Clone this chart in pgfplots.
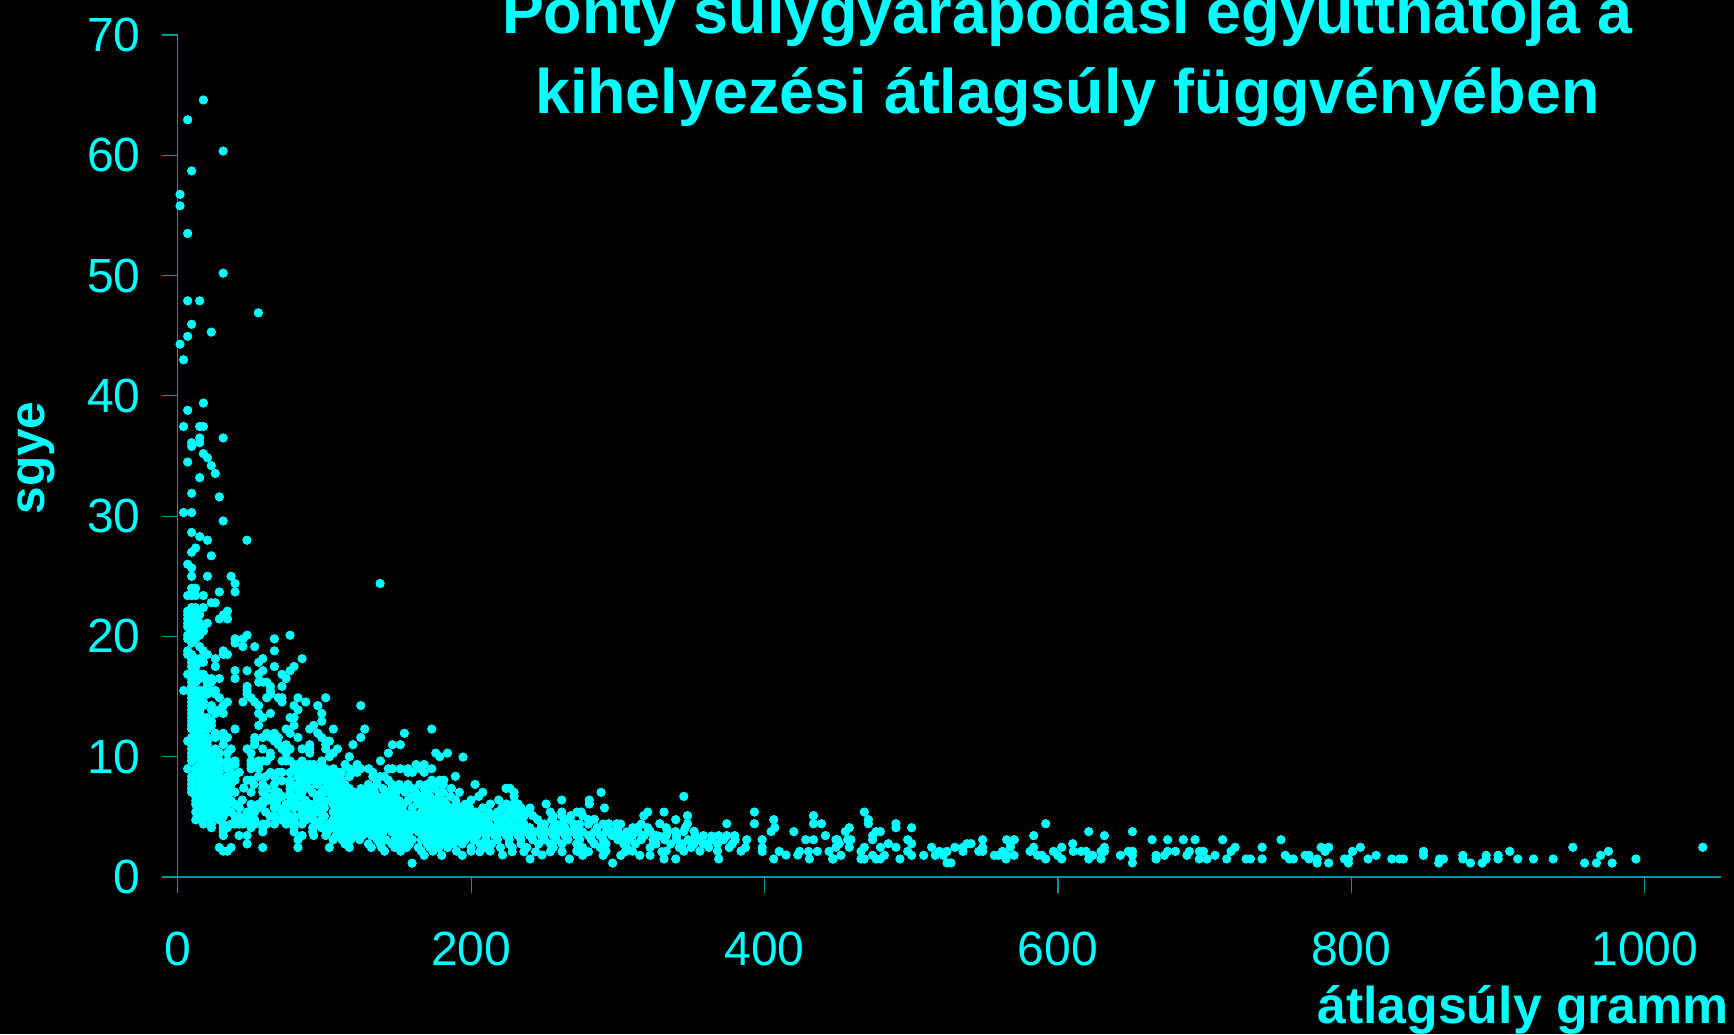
\documentclass[border=0pt]{standalone}
\usepackage{fontspec}
\setmainfont{Liberation Sans}
\usepackage{pgfplots}
\pgfplotsset{compat=1.18}
\definecolor{cy}{HTML}{00FFFF}
\definecolor{axc}{HTML}{009A9A}
\begin{document}
\begin{tikzpicture}[x=1pt,y=1pt]
\fill[black] (0,0) rectangle (867,517);
\useasboundingbox (0,0) rectangle (867,517);
\begin{axis}[
 at={(88.85pt,78.5pt)},anchor=origin,
 scale only axis,width=771.65pt,height=421pt,
 xmin=0,xmax=1052,ymin=0,ymax=70,
 axis lines=left,axis line style={-,axc,line width=0.6pt},
 clip=false,
 xtick={0,200,400,600,800,1000},ytick={0,10,...,70},
 tick style={axc,line width=0.6pt},
 major tick length=8pt,
 tick align=outside,
 /pgf/number format/assume math mode=true,
 /pgf/number format/1000 sep={},
 ticklabel style={cy,font=\fontsize{24}{26}\selectfont},
 xticklabel style={yshift=-16pt},
 yticklabel style={xshift=-7pt},
 title={Ponty súlygyarapodási együtthatója a\\kihelyezési átlagsúly függvényében},
 title style={at={(rel axis cs:0.5,1)},anchor=north,align=center,cy,yshift=21.5pt,xshift=59pt,
   font=\bfseries\fontsize{31.4}{40}\selectfont},
 xlabel={átlagsúly gramm},
 xlabel style={at={(rel axis cs:1,0)},anchor=north east,cy,xshift=7.5pt,yshift=-50.5pt,font=\bfseries\fontsize{25.9}{28}\selectfont},
 ylabel={sgye},
 ylabel style={at={(rel axis cs:0,0.5)},anchor=south,cy,xshift=-1pt,yshift=58pt,font=\bfseries\fontsize{24.8}{27}\selectfont},
]
\addplot[only marks,mark=*,mark size=2.1pt,color=cy,mark options={draw=none,fill=cy}] coordinates {
(17.5,64.6)(6.8,62.95)(31,60.35)(9.5,58.7)(1.6,56.75)(1.6,55.8)(6.8,53.5)(31,50.2)(6.8,47.9)(15,47.9)(55,46.9)(9.5,45.95)
(22.9,45.3)(6.8,44.95)(1.6,44.3)(4,43)(17.5,39.4)(6.8,38.8)(4,37.45)(15,37.45)(17.5,37.45)(15,36.5)(31,36.5)(9.5,36.1)(15,36.1)(9.5,35.8)
(17.5,35.2)(20.3,34.85)(6.8,34.5)(22.9,34.2)(25.6,33.55)(15,33.2)(9.5,31.9)(28.4,31.6)(4,30.3)(9.5,30.3)(31,29.6)(9.5,28.65)(15,28.3)
(20.3,28)(47.2,28)(12.2,27.35)(9.5,27)(22.9,26.7)(6.8,26)(9.5,25.7)(9.5,25)(20.3,25)(36.4,25)(39.1,24.4)(138,24.4)(9.5,24)(12.2,24)
(28.4,23.7)(39.1,23.7)(6.8,23.4)(9.5,23.4)(12.2,23.4)(17.5,23.4)(22.9,22.8)(25.6,22.8)(9.5,22.4)(12.2,22.4)(17.5,22.4)
(6.8,22.1)(9.5,22.1)(12.3,22.1)(33.9,22.1)(6.8,21.8)(9.5,21.8)(15,21.8)(31.1,21.8)
(6.8,21.45)(9.5,21.45)(12.3,21.45)(28.4,21.45)(33.9,21.45)(6.8,21.1)(9.5,21.1)(12.3,21.1)(15,21.1)(20.2,21.1)
(6.8,20.8)(9.5,20.8)(12.3,20.8)(17.5,20.8)(9.5,20.45)(15,20.45)(17.5,20.45)(6.8,20.1)(9.5,20.1)(12.3,20.1)(15,20.1)(47.3,20.1)(76.6,20.1)
(6.8,19.8)(9.5,19.8)(12.3,19.8)(39.1,19.8)(44.5,19.8)(65.9,19.8)(9.5,19.45)(39.1,19.45)(15,19.15)(44.5,19.15)(52.5,19.15)
(6.8,18.8)(17.5,18.8)(31.1,18.8)(65.9,18.8)(6.8,18.5)(9.5,18.5)(20.2,18.5)(33.9,18.5)(31.1,18.5)
(9.5,18.15)(12.3,18.15)(15,18.15)(25.7,18.15)(58,18.15)(84.8,18.15)(9.5,17.85)(15,17.85)(17.5,17.85)(55.2,17.85)
(9.5,17.5)(12.3,17.5)(25.7,17.5)(65.9,17.5)(79.3,17.5)(39.1,17.15)(47.3,17.15)(58,17.15)(76.6,17.15)
(6.8,16.85)(9.5,16.85)(12.3,16.85)(15,16.85)(17.5,16.85)(55.2,16.85)(71.1,16.85)
(9.5,16.5)(12.3,16.5)(15,16.5)(20.2,16.5)(23,16.5)(28.4,16.5)(39.1,16.5)(73.9,16.5)
(9.5,16.2)(12.3,16.2)(20.2,16.2)(23,16.2)(55.2,16.2)(58,16.2)(60.7,16.2)(9.5,15.85)(20.2,15.85)(47.3,15.85)(63.2,15.85)(71.1,15.85)
(4.1,15.5)(9.5,15.5)(12.3,15.5)(15,15.5)(17.5,15.5)(20.2,15.5)(23,15.5)(25.7,15.5)(47.3,15.5)(63.2,15.5)
(9.5,15.2)(12.3,15.2)(15,15.2)(20.2,15.2)(25.7,15.2)(47.3,15.2)(63.2,15.2)
(9.5,14.9)(12.3,14.9)(15,14.9)(28.4,14.9)(50,14.9)(60.7,14.9)(68.6,14.9)(71.1,14.9)(82,14.9)(100.9,14.9)
(9.5,14.55)(12.3,14.55)(15,14.55)(17.5,14.55)(33.9,14.55)(44.5,14.55)(52.5,14.55)(71.1,14.55)(87.3,14.55)
(9.5,14.25)(12.3,14.25)(15,14.25)(17.5,14.25)(23,14.25)(31.1,14.25)(55.2,14.25)(79.3,14.25)(95.5,14.25)(124.8,14.25)
(9.5,13.9)(12.3,13.9)(15,13.9)(23,13.9)(28.4,13.9)(82,13.9)
(9.5,13.6)(12.3,13.6)(15,13.6)(25.7,13.6)(31.1,13.6)(55.2,13.6)(63.2,13.6)(98.2,13.6)
(9.5,13.25)(12.3,13.25)(15,13.25)(17.5,13.25)(20.2,13.25)(58,13.25)(76.6,13.25)(79.3,13.25)
(9.5,12.95)(12.3,12.95)(15,12.95)(17.5,12.95)(20.2,12.95)(23,12.95)(98.2,12.95)
(9.5,12.6)(12.3,12.6)(15,12.6)(17.5,12.6)(20.2,12.6)(23,12.6)(55.2,12.6)(79.3,12.6)(92.7,12.6)
(9.5,12.3)(12.3,12.3)(15,12.3)(17.5,12.3)(20.2,12.3)(39.1,12.3)(73.9,12.3)(90,12.3)(106.1,12.3)(127.5,12.3)(173.2,12.3)
(12.3,11.95)(15,11.95)(25.7,11.95)(31.1,11.95)(60.7,11.95)(65.9,11.95)(76.6,11.95)(95.5,11.95)(154.5,11.95)
(9.5,11.6)(12.3,11.6)(15,11.6)(17.5,11.6)(20.2,11.6)(25.7,11.6)(31.1,11.6)(33.9,11.6)(52.5,11.6)(58,11.6)(63.2,11.6)(68.6,11.6)(82,11.6)(98.2,11.6)(124.8,11.6)
(6.8,11.3)(9.5,11.3)(12.3,11.3)(15,11.3)(17.5,11.3)(20.2,11.3)(52.5,11.3)(65.9,11.3)(100.9,11.3)(103.4,11.3)
(9.5,11)(12.3,11)(15,11)(20.2,11)(31.1,11)(52.5,11)(68.6,11)(73.9,11)(90,11)(100.9,11)(119.5,11)(146.4,11)(151.8,11)
(9.5,10.65)(12.3,10.65)(15,10.65)(17.5,10.65)(20.2,10.65)(25.7,10.65)(36.4,10.65)(47.3,10.65)(58,10.65)(71.1,10.65)(76.6,10.65)(84.8,10.65)(90,10.65)(100.9,10.65)(108.9,10.65)
(9.5,10.3)(12.3,10.3)(15,10.3)(17.5,10.3)(20.2,10.3)(23,10.3)(28.4,10.3)(33.9,10.3)(50,10.3)(63.2,10.3)(73.9,10.3)(90,10.3)(106.1,10.3)(143.6,10.3)(175.9,10.3)(183.9,10.3)
(9.5,10)(12.3,10)(15,10)(23,10)(63.2,10)(103.4,10)(117,10)(178.6,10)(194.5,9.97)
(9.5,9.65)(17.5,9.65)(20.2,9.65)(23,9.65)(25.7,9.65)(28.4,9.65)(33.9,9.65)(39.1,9.65)(50,9.65)(55.2,9.65)(58,9.65)(60.7,9.65)(71.1,9.65)(73.9,9.65)(76.6,9.65)(84.8,9.65)(98.2,9.65)(138.2,9.65)
(15,9.35)(17.5,9.35)(20.2,9.35)(23,9.35)(28.4,9.35)(33.9,9.35)(36.4,9.35)(39.1,9.35)(50,9.35)(55.2,9.35)(79.3,9.35)(82,9.35)(87.3,9.35)(90,9.35)(92.7,9.35)(98.2,9.35)(114.1,9.35)(122.3,9.35)(162.5,9.35)(168,9.35)
(6.8,9)(12.3,9)(15,9)(17.5,9)(20.2,9)(23,9)(28.4,9)(33.9,9)(50,9)(55.2,9)(79.3,9)(84.8,9)(90,9)(95.5,9)(100.9,9)(106.1,9)(117,9)(124.8,9)(130.2,9)(143.6,9)(146.4,9)(151.8,9)(157,9)(165.2,9)(173.2,9)
(12.3,8.7)(15,8.7)(20.2,8.7)(23,8.7)(25.7,8.7)(28.4,8.7)(36.4,8.7)(63.2,8.7)(68.6,8.7)(71.1,8.7)(76.6,8.7)(82,8.7)(87.3,8.7)(92.7,8.7)(98.2,8.7)(103.4,8.7)(109,8.7)(111.6,8.7)(119.5,8.7)(122.3,8.7)(133,8.7)(157,8.7)(160,8.7)(168,8.7)
(9.5,8.35)(15,8.35)(17.5,8.35)(20.2,8.35)(23,8.35)(25.7,8.35)(28.4,8.35)(33.9,8.35)(39.1,8.35)(82,8.35)(84.8,8.35)(90,8.35)(95,8.35)(100,8.35)(106,8.35)(117,8.35)(133,8.35)(138,8.35)(140.9,8.35)(189.3,8.37)
(9.5,8.05)(15,8.05)(17.5,8.05)(20.2,8.05)(23,8.05)(25.7,8.05)(28.4,8.05)(31.1,8.05)(36.4,8.05)(39.1,8.05)(47.3,8.05)(50,8.05)(76.6,8.05)(84.8,8.05)(90,8.05)(92.7,8.05)(98,8.05)(100.9,8.05)(103.4,8.05)(109,8.05)(111.6,8.05)(135.7,8.05)(143.6,8.05)(173.2,8.05)(178.6,8.05)(181.4,8.05)
(9.5,7.7)(15,7.7)(20.2,7.7)(25.7,7.7)(31.1,7.7)(36.4,7.7)(58,7.7)(65.9,7.7)(76.6,7.7)(82,7.7)(87,7.7)(95,7.7)(103,7.7)(108,7.7)(114,7.7)(130,7.7)(136,7.7)(146,7.7)(151,7.7)(157,7.7)(165,7.7)(170,7.7)(176,7.7)(181,7.7)(202.7,7.7)
(9.5,7.35)(15,7.35)(17.5,7.35)(23,7.35)(28.4,7.35)(33.9,7.35)(58,7.35)(60.7,7.35)(76.6,7.35)(82,7.35)(90,7.35)(100,7.35)(105,7.35)(111,7.35)(117,7.35)(125,7.35)(133,7.35)(140,7.35)(146,7.35)(152,7.35)(160,7.35)(168,7.35)(175,7.35)(186.5,7.37)(223.8,7.37)(226.5,7.37)
(9.5,7.05)(15,7.05)(20.2,7.05)(25.7,7.05)(31.1,7.05)(36.4,7.05)(39.1,7.05)(50,7.05)(58,7.05)(65.9,7.05)(68.6,7.05)(76.6,7.05)(84.8,7.05)(98,7.05)(103,7.05)(108,7.05)(114,7.05)(120,7.05)(128,7.05)(134,7.05)(142,7.05)(149,7.05)(155,7.05)(162,7.05)(170,7.05)(178,7.05)(192,7.04)(207.9,7.04)(229.3,7.04)(288.6,7.04)(181,7.04)
(12.3,6.7)(17.5,6.7)(23,6.7)(28.4,6.7)(33.9,6.7)(60.7,6.7)(65.9,6.7)(71.1,6.7)(76.6,6.7)(82,6.7)(98,6.7)(106,6.7)(112,6.7)(118,6.7)(124,6.7)(130,6.7)(136,6.7)(141,6.7)(147,6.7)(160,6.7)(166,6.7)(172,6.7)(178,6.7)(186,6.7)(205.2,6.7)(229.3,6.7)(345,6.7)
(12.3,6.35)(15,6.35)(20.2,6.35)(25.7,6.35)(31.1,6.35)(36.4,6.35)(58,6.35)(60.7,6.35)(65.9,6.35)(95,6.35)(103,6.35)(109,6.35)(115,6.35)(121,6.35)(127,6.35)(133,6.35)(139,6.35)(145,6.35)(151,6.35)(157,6.35)(163,6.35)(169,6.35)(175,6.35)(181,6.35)(189.3,6.4)(200,6.4)(218.8,6.4)(261.8,6.4)(280.6,6.4)
(12.3,6.05)(17.5,6.05)(23,6.05)(28.4,6.05)(33.9,6.05)(50,6.05)(55.2,6.05)(58,6.05)(65.9,6.05)(73.9,6.05)(76.6,6.05)(82,6.05)(90,6.05)(98,6.05)(106,6.05)(112,6.05)(118,6.05)(124,6.05)(130,6.05)(136,6.05)(142,6.05)(148,6.05)(154,6.05)(165,6.05)(171,6.05)(177,6.05)(183,6.05)(190,6.05)(196,6.05)(213.1,6.07)(224,6.07)(229,6.07)(232,6.07)(251.1,6.07)(280.6,6.07)
(15,5.75)(20.2,5.75)(25.7,5.75)(31.1,5.75)(55.2,5.75)(65.9,5.75)(73.9,5.75)(79.3,5.75)(84.8,5.75)(92.7,5.75)(100,5.75)(108,5.75)(114,5.75)(120,5.75)(126,5.75)(132,5.75)(139,5.75)(145,5.75)(151,5.75)(160,5.75)(168,5.75)(174,5.75)(180,5.75)(186,5.75)(192,5.75)(199,5.75)(208,5.75)(221,5.74)(228,5.74)(234,5.74)(240.2,5.74)(290.9,5.74)
(12.3,5.4)(17.5,5.4)(23,5.4)(28.4,5.4)(33.9,5.4)(47.3,5.4)(50,5.4)(52.5,5.4)(71.1,5.4)(73.9,5.4)(84.8,5.4)(90,5.4)(98,5.4)(106,5.4)(112,5.4)(118,5.4)(124,5.4)(130,5.4)(136,5.4)(142,5.4)(148,5.4)(154,5.4)(160,5.4)(166,5.4)(172,5.4)(178,5.4)(184,5.4)(190,5.4)(196,5.4)(203,5.4)(212,5.4)(218,5.4)(226,5.4)(232,5.4)(238,5.4)(261.8,5.4)(272.2,5.4)(275,5.4)(320.4,5.4)(331.5,5.4)(393.1,5.4)
(15,5.05)(20.2,5.05)(25.7,5.05)(31.1,5.05)(41.8,5.05)(47.3,5.05)(50,5.05)(79.3,5.05)(84.8,5.05)(90,5.05)(100,5.05)(108,5.05)(114,5.05)(120,5.05)(126,5.05)(132,5.05)(138,5.05)(144,5.05)(150,5.05)(157,5.05)(163,5.05)(169,5.05)(175,5.05)(181,5.05)(187,5.05)(193,5.05)(200,5.05)(207,5.05)(214,5.05)(223,5.05)(230,5.05)(236,5.05)(256,5.05)(261.8,5.1)(276,5.1)(317.7,5.1)(347.5,5.1)(433.4,5.1)
(12.3,4.75)(17.5,4.75)(23,4.75)(28.4,4.75)(44.5,4.75)(47.3,4.75)(52.5,4.75)(79.3,4.75)(87.3,4.75)(92.7,4.75)(98,4.75)(106,4.75)(112,4.75)(118,4.75)(124,4.75)(130,4.75)(136,4.75)(142,4.75)(148,4.75)(154,4.75)(160,4.75)(166,4.75)(172,4.75)(178,4.75)(184,4.75)(190,4.75)(196,4.75)(202,4.75)(209,4.75)(218,4.75)(225,4.75)(233,4.75)(245.4,4.77)(255,4.77)(264,4.77)(267,4.77)(280,4.77)(339.5,4.77)(406.3,4.77)
(17.5,4.4)(23,4.4)(31,4.4)(36.4,4.4)(39.1,4.4)(41.8,4.4)(44.5,4.4)(50,4.4)(52.5,4.4)(58,4.4)(60.7,4.4)(73.9,4.4)(79.3,4.4)(84.8,4.4)(95,4.4)(103,4.4)(110,4.4)(116,4.4)(122,4.4)(128,4.4)(134,4.4)(140,4.4)(146,4.4)(152,4.4)(158,4.4)(164,4.4)(170,4.4)(176,4.4)(182,4.4)(188,4.4)(194,4.4)(200,4.4)(206,4.4)(212,4.4)(220,4.4)(228,4.4)(236,4.4)(250,4.4)(258,4.4)(270,4.4)(280,4.4)(293.8,4.43)(299.3,4.43)(328.6,4.43)(347.5,4.43)(374.3,4.43)(393.1,4.43)(433.4,4.43)(438.8,4.43)(470.8,4.43)(489.6,4.43)(591.7,4.43)
(23,4.1)(31,4.1)(33.9,4.1)(50,4.1)(58,4.1)(79.3,4.1)(92,4.1)(98,4.1)(106,4.1)(113,4.1)(119,4.1)(125,4.1)(131,4.1)(137,4.1)(143,4.1)(149,4.1)(155,4.1)(161,4.1)(167,4.1)(173,4.1)(179,4.1)(185,4.1)(191,4.1)(197,4.1)(203,4.1)(209,4.1)(216,4.1)(224,4.1)(232,4.1)(240,4.1)(248,4.1)(256,4.1)(264,4.1)(272,4.1)(286,4.1)(300,4.1)(310.2,4.1)(312.9,4.1)(320.4,4.1)(333,4.1)(407,4.1)(470.8,4.77)(468,5.4)(489.6,4.1)(500.3,4.1)(457.8,4.1)
(31,3.75)(58,3.75)(79.3,3.75)(92,3.75)(102,3.75)(110,3.75)(116,3.75)(122,3.75)(128,3.75)(134,3.75)(140,3.75)(146,3.75)(152,3.75)(158,3.75)(164,3.75)(170,3.75)(176,3.75)(182,3.75)(188,3.75)(194,3.75)(200,3.75)(206,3.75)(212,3.75)(220,3.75)(228,3.75)(236,3.75)(244,3.75)(252,3.75)(260,3.75)(268,3.75)(276,3.75)(284,3.75)(292,3.75)(300,3.75)(306,3.75)(314,3.75)(322,3.75)(339.3,3.77)(345,3.77)(404.5,3.77)(420,3.77)(455.1,3.77)(476,3.77)(479,3.77)(621,3.77)(650.8,3.77)
(31.1,3.45)(41.8,3.45)(47.3,3.45)(84.8,3.45)(92.7,3.45)(100.9,3.45)(108,3.45)(114,3.45)(120,3.45)(126,3.45)(132,3.45)(138,3.45)(150,3.45)(156,3.45)(168,3.45)(174,3.45)(180,3.45)(186,3.45)(192,3.45)(198,3.45)(204,3.45)(210,3.45)(216,3.45)(224,3.45)(232,3.45)(240,3.45)(248,3.45)(256,3.45)(264,3.45)(272,3.45)(280,3.45)(288,3.45)(296,3.45)(304,3.45)(310,3.45)(318,3.45)(326,3.45)(333,3.45)(352.9,3.44)(358.4,3.44)(368.8,3.44)(374.3,3.44)(379.7,3.44)(441.5,3.44)(473.7,3.44)(583.5,3.44)(631.7,3.44)
(82,3.1)(106,3.1)(112,3.1)(118,3.1)(124,3.1)(136,3.1)(142,3.1)(148,3.1)(154,3.1)(160,3.1)(166,3.1)(172,3.1)(178,3.1)(184,3.1)(190,3.1)(196,3.1)(202,3.1)(210,3.1)(218,3.1)(226,3.1)(234,3.1)(242,3.1)(250,3.1)(258,3.1)(266,3.1)(274,3.1)(282,3.1)(290,3.1)(300,3.1)(308,3.1)(316,3.1)(324,3.1)(332,3.1)(340,3.1)(348,3.1)(356,3.1)(364,3.1)(372,3.1)(380,3.1)(387.9,3.1)(398.4,3.1)(428.1,3.1)(433.4,3.1)(449.7,3.1)(473.7,3.1)(458.9,3.1)(456.7,3.1)(497.6,3.1)(448.7,3.1)(548.7,3.1)(565.1,3.1)(570.3,3.1)(664.2,3.1)(674.8,3.1)(685.5,3.1)(693.5,3.1)(712.3,3.1)(752.1,3.1)
(47.3,2.75)(114,2.75)(130,2.75)(138,2.75)(146,2.75)(152,2.75)(158,2.75)(170,2.75)(176,2.75)(182,2.75)(188,2.75)(194,2.75)(206,2.75)(214,2.75)(226,2.75)(234,2.75)(246,2.75)(254,2.75)(262,2.75)(272,2.75)(284,2.75)(292,2.75)(304,2.75)(312,2.75)(326,2.75)(336,2.75)(344,2.75)(352,2.75)(360,2.75)(368,2.75)(378,2.75)(500.3,2.77)(451,2.77)(484.4,2.77)(567.6,2.77)(538,2.77)(540.8,2.77)(610.1,2.77)
(28.4,2.45)(36.4,2.45)(58,2.45)(82,2.45)(103.4,2.45)(117,2.45)(132,2.45)(139,2.45)(148,2.45)(156,2.45)(164,2.45)(172,2.45)(178,2.45)(184,2.45)(200,2.45)(210,2.45)(228,2.45)(238,2.45)(256,2.45)(276,2.45)(288,2.45)(306,2.45)(322,2.45)(342,2.45)(350,2.45)(362,2.45)(376,2.45)(387,2.45)(398.4,2.45)(479,2.47)(489.6,2.47)(468,2.47)(457.8,2.47)(448.7,2.47)(513.9,2.47)(529.8,2.47)(535.3,2.47)(548.7,2.47)(567.6,2.47)(583.5,2.47)(602.6,2.47)(631.7,2.47)(720.8,2.47)(739.2,2.47)(779.4,2.47)(784.6,2.47)(806.2,2.47)(951,2.47)(1039.6,2.47)
(31,2.15)(33.9,2.15)(141,2.15)(152,2.15)(166,2.15)(174,2.15)(190,2.15)(200,2.15)(213,2.15)(221.5,1.83)(248.4,1.83)(272,2.15)(292,2.15)(310,2.15)(333,2.15)(345,2.15)(356,2.15)(368,2.15)(384,2.15)(398.4,2.13)(410,2.13)(424,2.13)(430,2.13)(436,2.13)(444,2.13)(465.8,2.13)(497.6,2.13)(519.2,2.13)(524.4,2.13)(535.3,2.13)(546,2.13)(548.7,2.13)(562.3,2.13)(581,2.13)(597,2.13)(610.5,2.13)(615.8,2.13)(619.2,2.13)(631.7,2.13)(629.4,2.13)(648,2.13)(650.8,2.13)(674.8,2.13)(680.1,2.13)(689.6,2.13)(696.4,2.13)(699.2,2.13)(718,2.13)(782.1,2.13)(800.8,2.13)(849.2,2.13)(908,2.13)(975.3,2.13)
(159.8,1.15)(168,1.8)(180,1.8)(194,1.8)(240.2,1.5)(267,1.5)(276,1.8)(296.5,1.16)(302,1.8)(331.5,1.5)(339.5,1.5)(368.8,1.5)(406.3,1.5)(430.6,1.5)(446.8,1.5)(414.7,1.83)(422.7,1.83)(452.1,1.8)(500.3,1.8)(508.5,1.8)(465.8,1.5)(468,1.5)(473.7,1.8)(476,1.5)(479,1.5)(481.7,1.8)(492.3,1.5)(446.4,1.5)(516.4,1.8)(521.9,1.8)(524.4,1.17)(527.1,1.17)(556.7,1.8)(559.6,1.8)(564.6,1.5)(565.1,1.8)(570.1,1.8)(586.2,1.8)(589,1.8)(591.7,1.5)(599.8,1.8)(602.6,1.5)(623.7,1.8)(621,1.5)(629.4,1.5)(642.6,1.8)(650.8,1.8)(650.8,1.17)(666.9,1.8)(666.9,1.5)(672.6,1.8)(688,1.8)(696.4,1.5)(701.7,1.5)(707.1,1.8)(715.1,1.5)(728.3,1.5)(731.2,1.5)(739.2,1.5)
(755,1.8)(757.8,1.5)(760.5,1.5)(768.5,1.8)(771.2,1.8)(771.2,1.5)(776.7,1.5)(776.7,1.16)(784.6,1.16)(795.3,1.5)(798,1.5)(798,1.16)(811.4,1.5)(816.9,1.8)(827.6,1.5)(832.8,1.5)(835.5,1.5)(849.2,1.8)(859.6,1.16)(860.1,1.5)(862.8,1.5)(876,1.8)(876,1.5)(881.2,1.16)(889.2,1.16)(891.9,1.5)(891.9,1.8)(900.1,1.8)(900.1,1.5)(913.5,1.5)(924.2,1.5)(937.6,1.5)(959,1.16)(967.1,1.16)(969.9,1.8)(977.8,1.16)(994,1.5)
(242,5.1)(248,4.4)(254,5.4)(262,4.4)(268,5.1)(274,4.4)(284,4.8)(290,4.4)(296,3.8)(302,4.4)(308,3.4)(316,4.4)(322,3.8)(328,3.4)(334,3.8)(340,3.4)(346,4.1)(352,3.8)(358,2.8)(364,3.4)(330,2.1)(322,1.8)(315,1.8)(305,2.1)(290,1.8)(280,2.1)(262,2.1)(254,2.1)(244,2.1)(236,2.1)(228,2.1)(220,2.45)(206,2.1)
(42,8.7)(45,7.4)(52,7.7)(55,8.35)(60,8.35)(65.9,8.35)(71,8)(60,5.4)(63,5.05)(68.6,5.75)(65.9,5.05)(68,6.4)(87,6.4)(92,7)(95,6.7)(87,5.75)(79,6.7)(79.3,6.05)(71,4.75)(76,5.05)(66,4.4)(95,5.4)(98,6)(39,6.05)(42,5.75)(39,5.05)(36.4,5.4)(44,6.4)
};
\end{axis}
\end{tikzpicture}
\end{document}
